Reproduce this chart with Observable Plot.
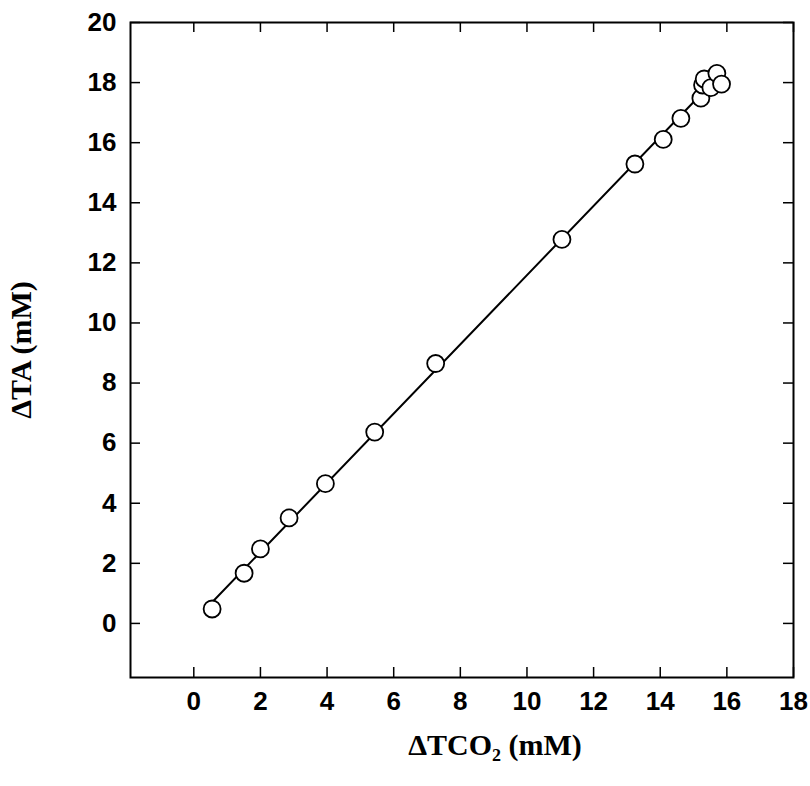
<!DOCTYPE html>
<html>
<head>
<meta charset="utf-8">
<script src="https://cdn.jsdelivr.net/npm/d3@7"></script>
<script src="https://cdn.jsdelivr.net/npm/@observablehq/plot@0.6"></script>
<style>
  html, body { margin: 0; padding: 0; background: #fff; }
</style>
</head>
<body>
<div id="chart"></div>
<script>
// Data
const dTCO2 = [0.55, 1.51, 2.0, 2.86, 3.95, 5.43, 7.26, 11.05, 13.24, 14.09, 14.62, 15.22, 15.27, 15.32, 15.52, 15.70, 15.84];
const dTA   = [0.48, 1.67, 2.48, 3.51, 4.65, 6.37, 8.65, 12.78, 15.29, 16.11, 16.81, 17.48, 17.92, 18.12, 17.83, 18.31, 17.95];
const xTicks = [0, 2, 4, 6, 8, 10, 12, 14, 16, 18];
const yTicks = [0, 2, 4, 6, 8, 10, 12, 14, 16, 18, 20];
const xTitle = ["ΔTCO₂ (mM)"];
const yTitle = ["ΔTA (mM)"];

const points = dTCO2.map((x, i) => ({x, y: dTA[i]}));

const width = 810, height = 786;
const mL = 130, mR = 17, mT = 22, mB = 109;
const W = width - mL - mR, H = height - mT - mB;
const tickLen = 10;
const tickFont = "'Liberation Sans', Arial, sans-serif";
const titleFont = "'Liberation Serif', 'Times New Roman', serif";

const chart = Plot.plot({
  width, height,
  marginLeft: mL, marginRight: mR, marginTop: mT, marginBottom: mB,
  style: {background: "#fff", color: "#000"},
  x: {domain: [-1.9, 18]},
  y: {domain: [-1.8, 20]},
  marks: [
    Plot.frame({stroke: "#000", strokeWidth: 2}),
    // inward ticks on all four sides
    Plot.ruleX(xTicks, {x: d => d, insetTop: H - tickLen, stroke: "#000", strokeWidth: 1.5}),
    Plot.ruleX(xTicks, {x: d => d, insetBottom: H - tickLen, stroke: "#000", strokeWidth: 1.5}),
    Plot.ruleY(yTicks, {y: d => d, insetRight: W - tickLen, stroke: "#000", strokeWidth: 1.5}),
    Plot.ruleY(yTicks, {y: d => d, insetLeft: W - tickLen, stroke: "#000", strokeWidth: 1.5}),
    Plot.axisX(xTicks, {tickSize: 0, tickPadding: 14, fontSize: 26, fontWeight: "bold", fontFamily: tickFont, label: null}),
    Plot.axisY(yTicks, {tickSize: 0, tickPadding: 14, fontSize: 26, fontWeight: "bold", fontFamily: tickFont, label: null}),
    Plot.linearRegressionY(points, {x: "x", y: "y", ci: 0, stroke: "#000", strokeWidth: 2}),
    Plot.dot(points, {x: "x", y: "y", r: 8.5, fill: "#fff", stroke: "#000", strokeWidth: 1.8}),
    Plot.text(xTitle, {frameAnchor: "bottom", textAnchor: "middle", lineAnchor: "middle", dx: 33, dy: 68, fontSize: 30, fontWeight: "bold", fontFamily: titleFont, fill: "#000"}),
    Plot.text(yTitle, {frameAnchor: "left", textAnchor: "middle", lineAnchor: "middle", dx: -109, rotate: -90, fontSize: 30, fontWeight: "bold", fontFamily: titleFont, fill: "#000"})
  ]
});
document.getElementById("chart").appendChild(chart);
</script>
</body>
</html>
